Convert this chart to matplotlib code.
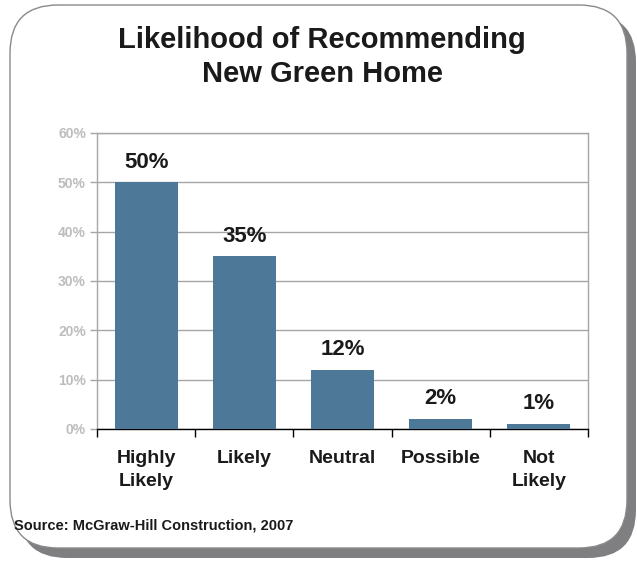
import matplotlib
matplotlib.use("Agg")
import matplotlib.pyplot as plt
from matplotlib.patches import FancyBboxPatch
from matplotlib.ticker import MultipleLocator, PercentFormatter

plt.rcParams['font.family'] = ['Liberation Sans', 'DejaVu Sans']
plt.rcParams['font.weight'] = 'bold'

categories = ['Highly\nLikely', 'Likely', 'Neutral', 'Possible', 'Not\nLikely']
values = [50, 35, 12, 2, 1]
bar_color = '#4e7898'

fig = plt.figure(figsize=(6.37, 5.61), dpi=100)

# background card with drop shadow, drawn in pixel space
bg = fig.add_axes([0, 0, 1, 1])
bg.set_xlim(0, 637)
bg.set_ylim(561, 0)
bg.axis('off')
shadow = FancyBboxPatch((19, 14), 617, 544, boxstyle='round,pad=0,rounding_size=48',
                        facecolor='#7f7f82', edgecolor='none')
card = FancyBboxPatch((10, 5), 617, 543, boxstyle='round,pad=0,rounding_size=48',
                      facecolor='white', edgecolor='#8a8a8a', linewidth=1.0)
bg.add_patch(shadow)
bg.add_patch(card)

ax = fig.add_axes([97 / 637, 1 - 429 / 561, (588 - 97) / 637, (429 - 133) / 561])
x = range(len(categories))
bars = ax.bar(x, values, width=0.64, color=bar_color, zorder=3)

ax.set_xlim(-0.5, len(categories) - 0.5)
ax.set_ylim(0, 60)
ax.yaxis.set_major_locator(MultipleLocator(10))
ax.yaxis.set_major_formatter(PercentFormatter(decimals=0))
ax.grid(axis='y', color='#a6a6a6', linewidth=1.0, zorder=0)
ax.set_axisbelow(True)

for side in ['left', 'top', 'right']:
    ax.spines[side].set_color('#a6a6a6')
    ax.spines[side].set_linewidth(1.0)
ax.spines['bottom'].set_color('black')
ax.spines['bottom'].set_linewidth(1.0)

ax.tick_params(axis='y', colors='#a6a6a6', labelcolor='#bdbdbd', labelsize=10,
               length=5, width=1.0, pad=3)
ax.set_xticks([i - 0.5 for i in range(len(categories) + 1)], minor=False)
ax.set_xticklabels([])
ax.tick_params(axis='x', which='major', direction='out', length=6, width=1.0, color='black')
ax.set_xticks(list(x), minor=True)
ax.set_xticklabels(categories, minor=True, fontsize=14, color='#1a1a1a',
                   linespacing=1.45, va='top')
ax.tick_params(axis='x', which='minor', length=0, pad=15)

for b, v in zip(bars, values):
    ax.annotate(f'{v}%', (b.get_x() + b.get_width() / 2, v), xytext=(0, 7),
                textcoords='offset points', ha='center', va='bottom',
                fontsize=16, fontweight='bold', color='#1a1a1a')

fig.text(322 / 637, 1 - 57 / 561, 'Likelihood of Recommending\nNew Green Home',
         ha='center', va='center', fontsize=21, fontweight='bold', color='#1a1a1a',
         linespacing=1.25)
fig.text(14 / 637, 1 - 525 / 561, 'Source: McGraw-Hill Construction, 2007',
         ha='left', va='center', fontsize=10.5, fontweight='bold', color='#1a1a1a')

fig.savefig('out.png', dpi=100)
